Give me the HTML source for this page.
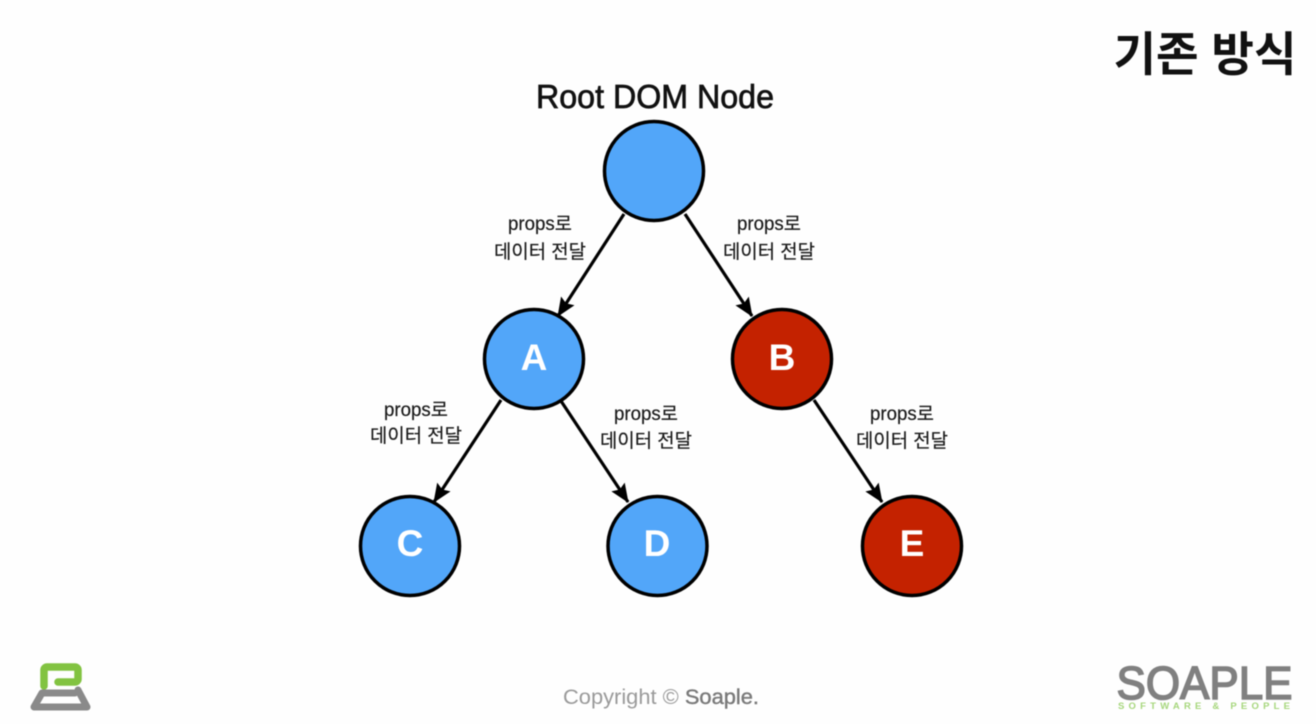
<!DOCTYPE html>
<html><head><meta charset="utf-8">
<style>html,body{margin:0;padding:0;background:#fff}svg{display:block;filter:blur(0.4px)}
text{font-family:"Liberation Sans","Noto Sans CJK KR",sans-serif}</style></head>
<body>
<svg width="1316" height="724" viewBox="0 0 1316 724" xmlns="http://www.w3.org/2000/svg">
<rect width="1316" height="724" fill="#fefefe"/>
<defs><marker id="a" markerUnits="userSpaceOnUse" markerWidth="22" markerHeight="20" refX="18" refY="9" orient="auto"><path d="M0 1L19 9L0 17L3 9Z" fill="#000"/></marker></defs>
<g stroke="#000" stroke-width="3.2" fill="none">
<line x1="624" y1="214" x2="558" y2="316" marker-end="url(#a)"/>
<line x1="685" y1="214" x2="752" y2="316" marker-end="url(#a)"/>
<line x1="501" y1="400" x2="434" y2="502" marker-end="url(#a)"/>
<line x1="561" y1="401" x2="628" y2="502" marker-end="url(#a)"/>
<line x1="814" y1="400" x2="882" y2="502" marker-end="url(#a)"/>
</g>
<g stroke="#000" stroke-width="3.5">
<circle cx="654" cy="171" r="49.5" fill="#52a6f9"/>
<circle cx="534" cy="359" r="49.5" fill="#52a6f9"/>
<circle cx="782" cy="359" r="49.5" fill="#c42200"/>
<circle cx="410" cy="546" r="49.5" fill="#52a6f9"/>
<circle cx="657.5" cy="546" r="49.5" fill="#52a6f9"/>
<circle cx="912" cy="546" r="49.5" fill="#c42200"/>
</g>
<g fill="#fff" font-size="37" font-weight="700" text-anchor="middle">
<text x="534" y="370">A</text><text x="782" y="370">B</text><text x="410" y="556">C</text><text x="657" y="556">D</text><text x="912" y="556">E</text>
</g>
<text x="655" y="108" font-size="33" text-anchor="middle" fill="#111" textLength="238" lengthAdjust="spacingAndGlyphs" stroke="#111" stroke-width="0.7">Root DOM Node</text>
<text x="1205" y="71" font-size="47" font-weight="700" text-anchor="middle" fill="#111" textLength="183" lengthAdjust="spacingAndGlyphs">기존 방식</text>
<g font-size="19" fill="#1a1a1a" text-anchor="middle" stroke="#1a1a1a" stroke-width="0.2">
<text x="540" y="230" textLength="64" lengthAdjust="spacingAndGlyphs">props로</text><text x="540" y="258" textLength="92" lengthAdjust="spacingAndGlyphs">데이터 전달</text>
<text x="769" y="230" textLength="64" lengthAdjust="spacingAndGlyphs">props로</text><text x="769" y="258" textLength="92" lengthAdjust="spacingAndGlyphs">데이터 전달</text>
<text x="416" y="416" textLength="64" lengthAdjust="spacingAndGlyphs">props로</text><text x="416" y="442" textLength="92" lengthAdjust="spacingAndGlyphs">데이터 전달</text>
<text x="646" y="420" textLength="64" lengthAdjust="spacingAndGlyphs">props로</text><text x="646" y="447" textLength="92" lengthAdjust="spacingAndGlyphs">데이터 전달</text>
<text x="902" y="420" textLength="64" lengthAdjust="spacingAndGlyphs">props로</text><text x="902" y="447" textLength="92" lengthAdjust="spacingAndGlyphs">데이터 전달</text>
</g>
<text x="661" y="704" font-size="21" fill="#9a9a9a" text-anchor="middle" textLength="196" lengthAdjust="spacingAndGlyphs">Copyright © <tspan fill="#7a7a7a" stroke="#7a7a7a" stroke-width="0.4">Soaple.</tspan></text>
<path d="M44 686V670a3 3 0 0 1 3-3H75a3 3 0 0 1 3 3V679a3 3 0 0 1-3 3H58" fill="none" stroke="#82c341" stroke-width="7.5" stroke-linecap="round" stroke-linejoin="round"/>
<path d="M75 693H42L34 707H87L78 690" fill="none" stroke="#8a8a8a" stroke-width="7" stroke-linecap="round" stroke-linejoin="round"/>
<text x="1204.5" y="699" font-size="46" fill="#808080" text-anchor="middle" textLength="176" lengthAdjust="spacingAndGlyphs" stroke="#808080" stroke-width="1.6">SOAPLE</text>
<text x="1204" y="709" font-size="9.5" font-weight="700" fill="#a6d67c" text-anchor="middle" textLength="172" lengthAdjust="spacing">SOFTWARE &amp; PEOPLE</text>
</svg>
</body></html>
